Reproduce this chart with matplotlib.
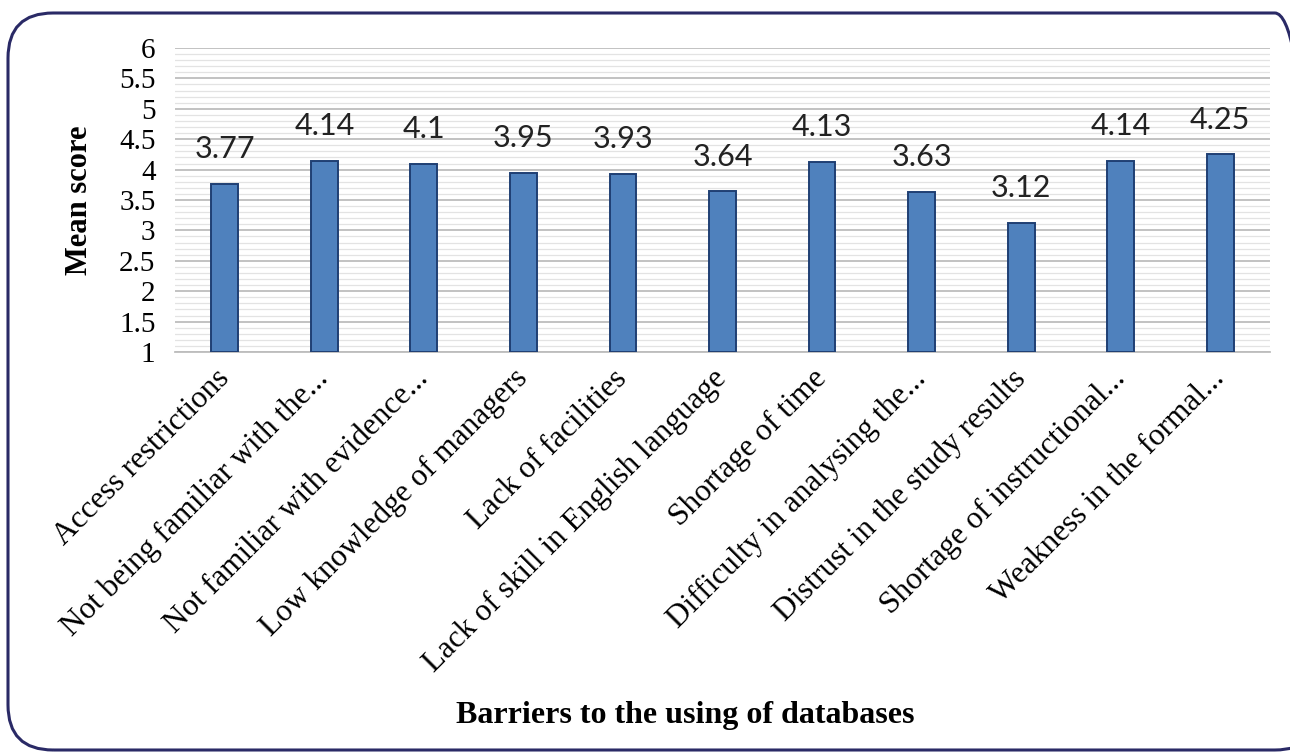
import matplotlib.pyplot as plt
from matplotlib.patches import FancyBboxPatch
from matplotlib.ticker import MultipleLocator

# ----------------------------------------
# Data
barriers = [
    "Access restrictions",
    "Not being familiar with the...",
    "Not familiar with evidence...",
    "Low knowledge of managers",
    "Lack of facilities",
    "Lack of skill in English language",
    "Shortage of time",
    "Difficulty in analysing the...",
    "Distrust in the study results",
    "Shortage of instructional...",
    "Weakness in the formal...",
]
mean_scores = [3.77, 4.14, 4.1, 3.95, 3.93, 3.64, 4.13, 3.63, 3.12, 4.14, 4.25]
y_ticks = [1, 1.5, 2, 2.5, 3, 3.5, 4, 4.5, 5, 5.5, 6]
y_tick_labels = ["1", "1.5", "2", "2.5", "3", "3.5", "4", "4.5", "5", "5.5", "6"]

# ----------------------------------------
W, H = 1290, 753
fig = plt.figure(figsize=(W / 100, H / 100), dpi=100)
ax = fig.add_axes([175 / W, 1 - 352 / H, (1270 - 175) / W, (352 - 48) / H])

# rounded frame around the whole chart
frame = FancyBboxPatch((8 / W, 3 / H), (1320 - 8) / W, (740 - 3) / H,
                       boxstyle="round,pad=0,rounding_size=0.035",
                       transform=fig.transFigure, fill=False,
                       edgecolor="#2A2A66", linewidth=2.2, clip_on=False,
                       mutation_aspect=W / H)
fig.patches.append(frame)

x = list(range(len(barriers)))
bottom = 1
heights = [v - bottom for v in mean_scores]
ax.bar(x, heights, bottom=bottom, width=0.27, color="#4F81BD",
       edgecolor="#1F3F73", linewidth=1.4, zorder=3)

# value labels above bars
for xi, v in zip(x, mean_scores):
    ax.annotate(f"{v:g}", (xi, v), xytext=(0, 25), textcoords="offset points",
                ha="center", va="center", fontsize=22, family="Lato",
                color="#222222", zorder=4)

ax.set_xlim(-0.5, len(barriers) - 0.5)
ax.set_ylim(1, 6)
ax.set_yticks(y_ticks)
ax.set_yticklabels(y_tick_labels, family="Liberation Serif", fontsize=21)
ax.yaxis.set_minor_locator(MultipleLocator(0.1))
ax.grid(axis="y", which="major", color="#BDBDBD", linewidth=1.3, zorder=0)
ax.grid(axis="y", which="minor", color="#E3E3E3", linewidth=0.9, zorder=0)
ax.tick_params(axis="both", which="both", length=0)
ax.tick_params(axis="y", pad=14)

ax.set_xticks(x)
ax.set_xticklabels(barriers, rotation=45, ha="right", va="center",
                   rotation_mode="anchor", family="Liberation Serif",
                   fontsize=22.5)
ax.tick_params(axis="x", pad=16)

for s in ["top", "right", "left"]:
    ax.spines[s].set_visible(False)
ax.spines["bottom"].set_color("#BDBDBD")
ax.spines["bottom"].set_linewidth(1.3)

ax.set_ylabel("Mean score", family="Liberation Serif", fontsize=22,
              fontweight="bold", labelpad=18)
fig.text(685 / W, 1 - 716 / H, "Barriers to the using of databases",
         family="Liberation Serif", fontsize=23, fontweight="bold",
         ha="center", va="center")

fig.savefig("out.png", dpi=100)
